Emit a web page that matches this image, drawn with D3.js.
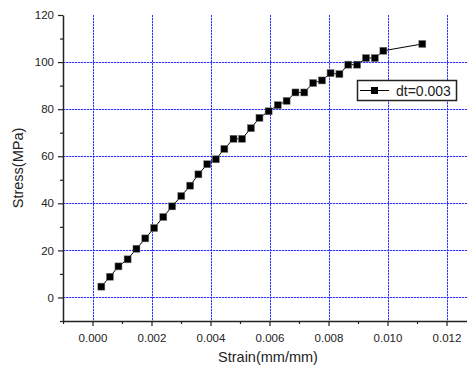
<!DOCTYPE html>
<html>
<head>
<meta charset="utf-8">
<script src="https://cdn.jsdelivr.net/npm/d3@7"></script>
<style>
  html, body { margin: 0; padding: 0; background: #fff; }
  svg { display: block; font-family: Arial, "Liberation Sans", sans-serif; }
</style>
</head>
<body>
<div id="chart"></div>
<script>
// strain (mm/mm) and stress (MPa)
const strain = [0.00030, 0.00059, 0.00088, 0.00119, 0.00149, 0.00179, 0.00209, 0.00240,
  0.00270, 0.00301, 0.00331, 0.00359, 0.00389, 0.00418, 0.00447, 0.00478, 0.00507,
  0.00537, 0.00566, 0.00597, 0.00628, 0.00658, 0.00688, 0.00718, 0.00748, 0.00778,
  0.00807, 0.00837, 0.00867, 0.00897, 0.00927, 0.00957, 0.00986, 0.01118];
const stress = [4.6, 8.8, 13.2, 16.2, 20.7, 25.1, 29.5, 34.2, 38.7, 43.1, 47.5, 52.3,
  56.6, 58.7, 63.1, 67.4, 67.4, 71.9, 76.3, 79.1, 81.7, 83.5, 87.1, 87.1, 91.1, 92.2,
  95.3, 94.9, 98.9, 98.9, 101.7, 101.7, 104.8, 107.7];
const seriesName = 'dt=0.003';
const xTicks = [0, 0.002, 0.004, 0.006, 0.008, 0.010, 0.012];
const yTicks = [0, 20, 40, 60, 80, 100, 120];
const xMinor = [-0.001, 0.001, 0.003, 0.005, 0.007, 0.009, 0.011, 0.013];
const yMinor = [-10, 10, 30, 50, 70, 90, 110];

(function () {
  const width = 467, height = 368;
  const mLeft = 63, mTop = 15, mBottom = 321, mRight = 476;

  const svg = d3.select('#chart').append('svg')
    .attr('width', width).attr('height', height);

  const x = d3.scaleLinear().domain([-0.001, 0.013]).range([mLeft, mRight]);
  const y = d3.scaleLinear().domain([-10, 120]).range([mBottom, mTop]);

  // ---------- grid (blue dotted, light blue between the dots) ----------
  const grid = svg.append('g').attr('shape-rendering', 'crispEdges');
  function gridLines(cls, color, dash) {
    const g = grid.append('g');
    g.selectAll('line.vg').data(xTicks).join('line')
      .attr('x1', d => Math.round(x(d)) + 0.5).attr('x2', d => Math.round(x(d)) + 0.5)
      .attr('y1', mTop).attr('y2', mBottom);
    g.selectAll('line.hg').data(yTicks.filter(d => d < 120)).join('line')
      .attr('y1', d => Math.round(y(d)) + 0.5).attr('y2', d => Math.round(y(d)) + 0.5)
      .attr('x1', mLeft).attr('x2', width);
    g.selectAll('line').attr('class', cls)
      .style('stroke', color).style('stroke-width', '1px')
      .style('stroke-dasharray', dash);
  }
  gridLines('grid-base', '#b8b8ff', 'none');
  gridLines('grid-dots', '#3434ff', '2,1');

  // ---------- axes ----------
  const fmt = d3.format('.3f');
  const xAxis = svg.append('g').attr('transform', `translate(0,${mBottom})`)
    .call(d3.axisBottom(x).tickValues(xTicks).tickFormat(fmt).tickSize(5).tickSizeOuter(0));
  svg.append('g').attr('transform', `translate(0,${mBottom})`)
    .call(d3.axisBottom(x).tickValues(xMinor).tickFormat('').tickSize(3).tickSizeOuter(0))
    .select('.domain').remove();

  const yAxis = svg.append('g').attr('transform', `translate(${mLeft},0)`)
    .call(d3.axisLeft(y).tickValues(yTicks).tickSize(5).tickSizeOuter(0));
  svg.append('g').attr('transform', `translate(${mLeft},0)`)
    .call(d3.axisLeft(y).tickValues(yMinor).tickFormat('').tickSize(3).tickSizeOuter(0))
    .select('.domain').remove();

  svg.selectAll('.domain').attr('stroke', '#222').attr('stroke-width', 1.5);
  svg.selectAll('.tick line').attr('stroke', '#222').attr('stroke-width', 1.2);
  svg.selectAll('.tick text').attr('font-size', 11.5).attr('fill', '#222')
    .attr('font-family', 'Arial, "Liberation Sans", sans-serif');
  xAxis.selectAll('.tick text').attr('dy', '1.1em');
  yAxis.selectAll('.tick text').attr('x', -9);

  // axis titles
  svg.append('text')
    .attr('x', 268).attr('y', 362)
    .attr('text-anchor', 'middle').attr('font-size', 14.5).attr('fill', '#222')
    .text('Strain(mm/mm)');
  svg.append('text')
    .attr('transform', `translate(23,${(mTop + mBottom) / 2}) rotate(-90)`)
    .attr('text-anchor', 'middle').attr('font-size', 14.5).attr('fill', '#222')
    .text('Stress(MPa)');

  // ---------- series ----------
  const pts = strain.map((s, i) => [s, stress[i]]);
  svg.append('path').datum(pts)
    .attr('fill', 'none').attr('stroke', '#000').attr('stroke-width', 1)
    .attr('d', d3.line().x(d => x(d[0])).y(d => y(d[1])));
  svg.append('g').selectAll('rect').data(pts).join('rect')
    .attr('x', d => x(d[0]) - 3.5).attr('y', d => y(d[1]) - 3.5)
    .attr('width', 7).attr('height', 7)
    .attr('fill', '#000').attr('stroke', '#777').attr('stroke-width', 0.5);

  // ---------- legend ----------
  const lg = svg.append('g').attr('transform', 'translate(357,80)');
  lg.append('rect').attr('x', 0.5).attr('y', 0.5).attr('width', 99).attr('height', 20)
    .attr('fill', '#fff').attr('stroke', '#222').attr('stroke-width', 1.5);
  lg.append('line').attr('x1', 3).attr('x2', 32).attr('y1', 10.5).attr('y2', 10.5)
    .attr('stroke', '#000').attr('stroke-width', 1);
  lg.append('rect').attr('x', 14).attr('y', 7).attr('width', 7).attr('height', 7).attr('fill', '#000');
  lg.append('text').attr('x', 39).attr('y', 15.5).attr('font-size', 14).attr('fill', '#222')
    .text(seriesName);
})();
</script>
</body>
</html>
